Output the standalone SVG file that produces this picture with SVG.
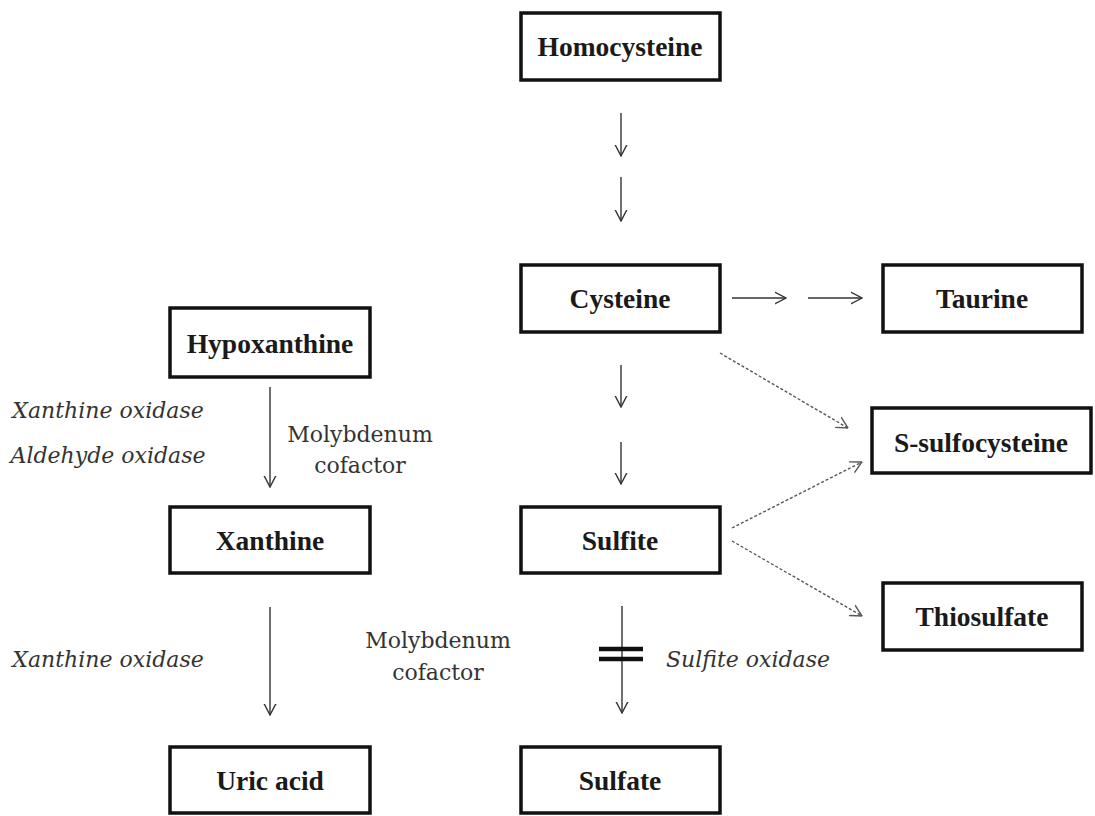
<svg xmlns="http://www.w3.org/2000/svg" width="1095" height="816" viewBox="0 0 1095 816">
<defs>
<style>
.box{fill:#fff;stroke:#111;stroke-width:3.5}
.lbl{font-family:"Liberation Serif","Times New Roman",serif;font-weight:bold;font-size:27.5px;fill:#1a1a1a;text-anchor:middle}
.ann{font-family:"DejaVu Serif",serif;font-size:22px;fill:#333;text-anchor:middle}
.it{font-style:italic}
.arr{stroke:#333;stroke-width:1.4;fill:none;marker-end:url(#ah)}
.dash{stroke:#555;stroke-width:1.4;fill:none;stroke-dasharray:3 2;marker-end:url(#ahd)}
</style>
<marker id="ah" viewBox="0 0 12 14" refX="11.5" refY="7" markerWidth="12" markerHeight="14" markerUnits="userSpaceOnUse" orient="auto">
<path d="M0,1 L11.5,7 L0,13" fill="none" stroke="#333" stroke-width="1.4"/>
</marker>
<marker id="ahd" viewBox="0 0 12 14" refX="11.5" refY="7" markerWidth="12" markerHeight="14" markerUnits="userSpaceOnUse" orient="auto">
<path d="M0,1 L11.5,7 L0,13" fill="none" stroke="#555" stroke-width="1.4"/>
</marker>
</defs>
<rect width="1095" height="816" fill="#fff"/>
<g id="connectors">
<line class="arr" x1="621" y1="113" x2="621" y2="156"/>
<line class="arr" x1="621" y1="177" x2="621" y2="221"/>
<line class="arr" x1="732" y1="298" x2="786" y2="298"/>
<line class="arr" x1="808" y1="298" x2="862" y2="298"/>
<line class="arr" x1="621" y1="365" x2="621" y2="407"/>
<line class="arr" x1="621" y1="442" x2="621" y2="484"/>
<line class="arr" x1="270" y1="387" x2="270" y2="487"/>
<line class="arr" x1="270" y1="607" x2="270" y2="715"/>
<line class="arr" x1="622" y1="606" x2="622" y2="713"/>
<line x1="599" y1="649" x2="643" y2="649" stroke="#111" stroke-width="4.5"/>
<line x1="599" y1="659" x2="643" y2="659" stroke="#111" stroke-width="4.5"/>
<line class="dash" x1="720" y1="353" x2="848" y2="428"/>
<line class="dash" x1="732" y1="528" x2="862" y2="462"/>
<line class="dash" x1="732" y1="541" x2="862" y2="616"/>
</g>
<g id="homocysteine"><rect class="box" x="521" y="13" width="199" height="67"/><text class="lbl" x="620" y="56">Homocysteine</text></g>
<g id="cysteine"><rect class="box" x="521" y="265" width="199" height="67"/><text class="lbl" x="620" y="308">Cysteine</text></g>
<g id="taurine"><rect class="box" x="883" y="265" width="199" height="67"/><text class="lbl" x="982" y="308">Taurine</text></g>
<g id="hypoxanthine"><rect class="box" x="170" y="308" width="200" height="69"/><text class="lbl" x="270" y="353">Hypoxanthine</text></g>
<g id="s-sulfocysteine"><rect class="box" x="872" y="408" width="219" height="65"/><text class="lbl" x="981" y="452">S-sulfocysteine</text></g>
<g id="xanthine"><rect class="box" x="170" y="507" width="200" height="66"/><text class="lbl" x="270" y="550">Xanthine</text></g>
<g id="sulfite"><rect class="box" x="521" y="507" width="199" height="66"/><text class="lbl" x="620" y="550">Sulfite</text></g>
<g id="thiosulfate"><rect class="box" x="883" y="583" width="199" height="67"/><text class="lbl" x="982" y="626">Thiosulfate</text></g>
<g id="uric-acid"><rect class="box" x="170" y="747" width="200" height="66"/><text class="lbl" x="270" y="790">Uric acid</text></g>
<g id="sulfate"><rect class="box" x="521" y="747" width="199" height="66"/><text class="lbl" x="620" y="790">Sulfate</text></g>
<g id="annotations">
<text class="ann it" x="108" y="418">Xanthine oxidase</text>
<text class="ann it" x="108" y="463">Aldehyde oxidase</text>
<text class="ann" x="360" y="442">Molybdenum</text>
<text class="ann" x="360" y="473">cofactor</text>
<text class="ann it" x="108" y="667">Xanthine oxidase</text>
<text class="ann" x="438" y="648">Molybdenum</text>
<text class="ann" x="438" y="680">cofactor</text>
<text class="ann it" x="748" y="667">Sulfite oxidase</text>
</g>
</svg>
